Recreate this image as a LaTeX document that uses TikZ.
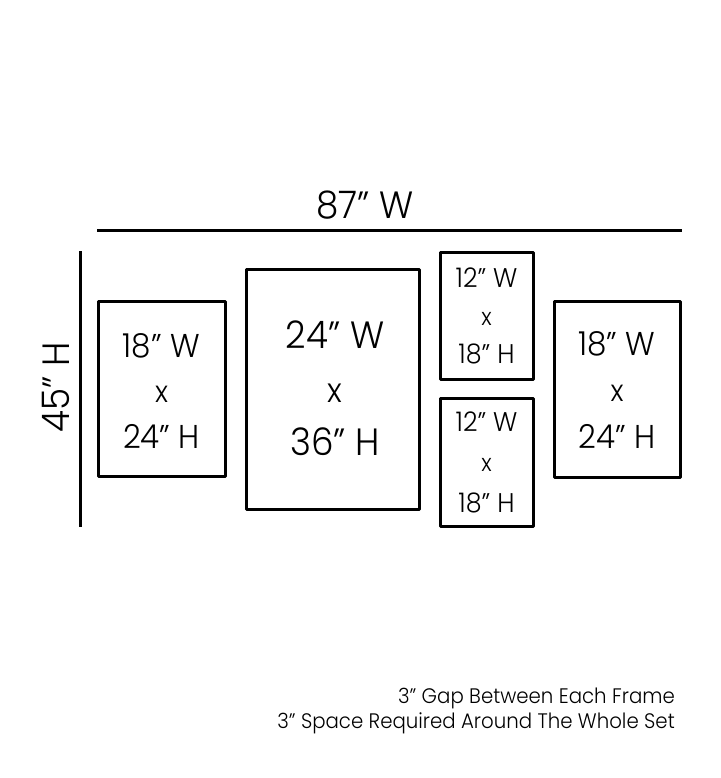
\documentclass[tikz,border=0pt]{standalone}
\usepackage{fontspec}
\setmainfont{Poppins}[UprightFont=* Light, FakeStretch=0.94]
\newcommand\dq{"}
\tikzset{
  x=1pt, y=-1pt,
  frame/.style={draw=black, line width=3pt, line join=round, inner sep=0pt, fill=none},
  dimline/.style={draw=black, line width=3pt},
  lbl/.style={anchor=base, inner sep=0pt, text=black},
}
\begin{document}
\begin{tikzpicture}
\useasboundingbox (0,0) rectangle (720,778);
% dimension lines
\coordinate (wl) at (97,230);
\coordinate (wr) at (682,230);
\draw[dimline] (wl) -- (wr);
\coordinate (ht) at (80,251);
\coordinate (hb) at (80,527);
\draw[dimline] (ht) -- (hb);
\node[lbl, font=\fontsize{38}{40}\selectfont] (wlab) at (365,218) {87\dq\ W};
\node[lbl, rotate=90, font=\fontsize{38}{40}\selectfont] (hlab) at (69,387) {45\dq\ H};
% frames
\draw[frame] (98,301) rectangle (225,476);
\node[lbl, font=\fontsize{33}{35}\selectfont] (f1a) at (161.5,357) {18\dq\ W};
\node[lbl, font=\fontsize{30}{35}\selectfont] (f1b) at (161.5,402) {x};
\node[lbl, font=\fontsize{33}{35}\selectfont] (f1c) at (161.5,448) {24\dq\ H};

\draw[frame] (246,269) rectangle (419,509);
\node[lbl, font=\fontsize{38}{40}\selectfont] (f2a) at (335,348) {24\dq\ W};
\node[lbl, font=\fontsize{34}{40}\selectfont] (f2b) at (335,402) {x};
\node[lbl, font=\fontsize{38}{40}\selectfont] (f2c) at (335,455) {36\dq\ H};

\draw[frame] (440,252) rectangle (533,379);
\node[lbl, font=\fontsize{27}{29}\selectfont] (f3a) at (486.5,287) {12\dq\ W};
\node[lbl, font=\fontsize{24}{29}\selectfont] (f3b) at (486.5,325) {x};
\node[lbl, font=\fontsize{27}{29}\selectfont] (f3c) at (486.5,363) {18\dq\ H};

\draw[frame] (440,398) rectangle (533,526);
\node[lbl, font=\fontsize{27}{29}\selectfont] (f4a) at (486.5,431) {12\dq\ W};
\node[lbl, font=\fontsize{24}{29}\selectfont] (f4b) at (486.5,471) {x};
\node[lbl, font=\fontsize{27}{29}\selectfont] (f4c) at (486.5,512) {18\dq\ H};

\draw[frame] (554,301) rectangle (680,477);
\node[lbl, font=\fontsize{33}{35}\selectfont] (f5a) at (617,355) {18\dq\ W};
\node[lbl, font=\fontsize{30}{35}\selectfont] (f5b) at (617,401) {x};
\node[lbl, font=\fontsize{33}{35}\selectfont] (f5c) at (617,448) {24\dq\ H};

% notes
\node[lbl, anchor=base east, font=\fontsize{21}{23}\selectfont] (n1) at (675,703) {3\dq\ Gap Between Each Frame};
\node[lbl, anchor=base east, font=\fontsize{21}{23}\selectfont] (n2) at (675,728) {3\dq\ Space Required Around The Whole Set};
\end{tikzpicture}
\end{document}
